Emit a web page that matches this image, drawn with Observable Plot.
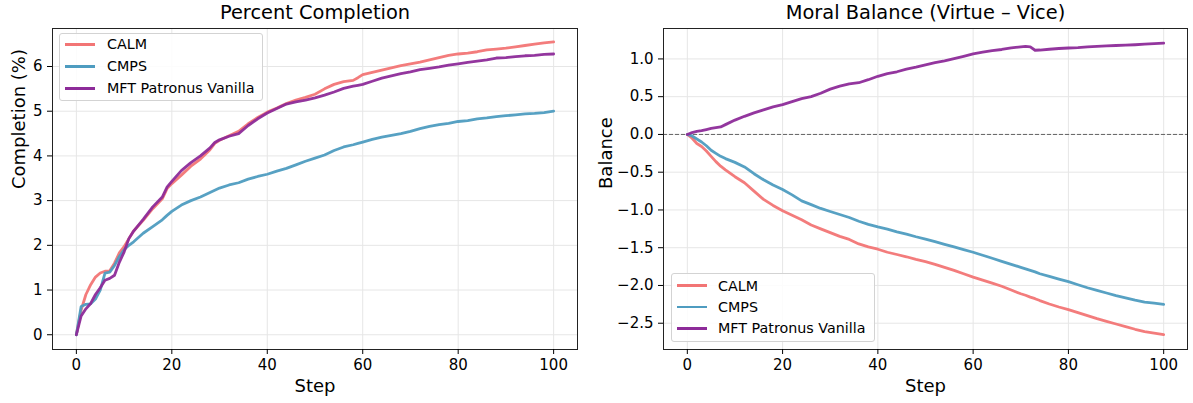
<!DOCTYPE html>
<html>
<head>
<meta charset="utf-8">
<script src="https://cdn.jsdelivr.net/npm/d3@7"></script>
<script src="https://cdn.jsdelivr.net/npm/@observablehq/plot@0.6"></script>
<style>
  html, body { margin: 0; padding: 0; background: #fff; }
  body { font-family: "DejaVu Sans", sans-serif; }
  #wrap { position: relative; width: 1193px; height: 403px; overflow: hidden; background: #fff; }
  .panel { position: absolute; top: 0; }
  .legend { position: absolute; border: 1px solid #d3d3d3; border-radius: 3px; background: rgba(255,255,255,0.85); box-sizing: border-box; }
  .sw { position: absolute; height: 2.8px; width: 30px; }
  .lt { position: absolute; font-size: 14.3px; line-height: 16px; white-space: nowrap; color: #000; }
</style>
</head>
<body>
<div id="wrap"></div>
<script>
// ---------------- data ----------------
const seriesNames = ["CALM", "CMPS", "MFT Patronus Vanilla"];
const seriesColors = ["#f27575", "#4e9cc0", "#8d2b99"];

// Percent Completion panel
const stepsCompletion = [0,1,2,3,4,5,6,7,8,9,10,11,12,14,16,18,19,20,22,24,26,28,29,30,32,34,36,38,40,42,44,46,48,50,52,54,56,58,59,60,62,64,66,68,70,72,74,76,78,80,82,84,86,88,90,92,94,96,98,100];
const calmCompletion = [0,0.55,0.9,1.12,1.29,1.38,1.42,1.43,1.6,1.83,1.97,2.15,2.32,2.56,2.82,3.04,3.27,3.38,3.57,3.77,3.93,4.14,4.28,4.35,4.45,4.55,4.72,4.86,4.98,5.07,5.17,5.25,5.31,5.38,5.5,5.6,5.66,5.69,5.75,5.82,5.87,5.92,5.97,6.02,6.06,6.1,6.15,6.2,6.25,6.28,6.3,6.33,6.37,6.39,6.41,6.44,6.47,6.5,6.53,6.55];
const cmpsCompletion = [0,0.63,0.68,0.69,0.8,1.0,1.38,1.4,1.55,1.75,1.9,2.0,2.08,2.27,2.42,2.57,2.67,2.76,2.9,3.0,3.08,3.18,3.23,3.28,3.35,3.4,3.48,3.54,3.59,3.66,3.72,3.8,3.88,3.95,4.02,4.12,4.2,4.25,4.28,4.31,4.37,4.42,4.46,4.5,4.55,4.61,4.66,4.7,4.73,4.77,4.79,4.83,4.85,4.88,4.9,4.92,4.94,4.95,4.97,5.0];
const mftCompletion = [0,0.42,0.58,0.7,0.9,1.05,1.22,1.26,1.33,1.62,1.85,2.15,2.32,2.58,2.86,3.08,3.3,3.43,3.67,3.85,4.0,4.18,4.3,4.36,4.44,4.5,4.68,4.83,4.96,5.06,5.16,5.21,5.25,5.3,5.36,5.43,5.51,5.56,5.58,5.6,5.67,5.74,5.79,5.84,5.88,5.93,5.96,5.99,6.03,6.06,6.09,6.12,6.15,6.19,6.2,6.22,6.24,6.25,6.27,6.28];

// Moral Balance panel
const stepsBalance = [0,1,2,3,4,5,6,7,8,10,12,14,16,18,20,22,24,26,28,30,32,34,36,38,40,42,44,46,48,50,52,54,56,58,60,62,64,66,68,70,71,72,73,74,76,78,80,82,84,86,88,90,92,94,96,98,100];
const calmBalance = [0,-0.05,-0.12,-0.16,-0.22,-0.29,-0.36,-0.42,-0.47,-0.56,-0.64,-0.75,-0.86,-0.94,-1.01,-1.07,-1.13,-1.2,-1.25,-1.3,-1.35,-1.39,-1.45,-1.49,-1.52,-1.56,-1.59,-1.62,-1.655,-1.685,-1.72,-1.76,-1.8,-1.845,-1.89,-1.93,-1.97,-2.01,-2.06,-2.11,-2.13,-2.155,-2.175,-2.2,-2.245,-2.285,-2.32,-2.36,-2.4,-2.44,-2.475,-2.51,-2.545,-2.58,-2.61,-2.63,-2.65];
const cmpsBalance = [0,-0.02,-0.06,-0.1,-0.15,-0.21,-0.25,-0.29,-0.32,-0.37,-0.43,-0.52,-0.6,-0.67,-0.73,-0.8,-0.88,-0.93,-0.98,-1.02,-1.06,-1.1,-1.15,-1.19,-1.225,-1.255,-1.29,-1.32,-1.355,-1.385,-1.42,-1.455,-1.49,-1.525,-1.56,-1.6,-1.64,-1.68,-1.72,-1.76,-1.78,-1.8,-1.82,-1.845,-1.88,-1.915,-1.95,-1.99,-2.03,-2.065,-2.1,-2.135,-2.165,-2.195,-2.22,-2.235,-2.25];
const mftBalance = [0,0.025,0.04,0.05,0.065,0.08,0.09,0.1,0.13,0.19,0.24,0.285,0.325,0.365,0.395,0.435,0.475,0.5,0.545,0.6,0.64,0.67,0.685,0.725,0.77,0.805,0.83,0.865,0.89,0.92,0.95,0.975,1.005,1.035,1.066,1.09,1.11,1.125,1.145,1.16,1.165,1.16,1.115,1.118,1.128,1.138,1.145,1.15,1.16,1.167,1.172,1.178,1.183,1.188,1.195,1.203,1.21];

const xTicks = [0, 20, 40, 60, 80, 100];
const yTicksCompletion = [0, 1, 2, 3, 4, 5, 6];
const yTicksBalance = [-2.5, -2.0, -1.5, -1.0, -0.5, 0.0, 0.5, 1.0];

// ---------------- helpers ----------------
function rows(steps, values) {
  return steps.map((s, i) => ({step: s, value: values[i]}));
}

function panel({left, width, marginLeft, marginRight, title, ylabel, ylabelDx, yDomain, yTicks, yFormat, series, zeroLine}) {
  const marks = [
    Plot.gridX(xTicks, {stroke: "#e6e6e6", strokeOpacity: 1, strokeWidth: 1}),
    Plot.gridY(yTicks, {stroke: "#e6e6e6", strokeOpacity: 1, strokeWidth: 1}),
  ];
  if (zeroLine) marks.push(Plot.ruleY([0], {stroke: "#555", strokeOpacity: 0.9, strokeWidth: 1, strokeDasharray: "4,2"}));
  series.forEach((vals, i) => {
    marks.push(Plot.line(vals, {x: "step", y: "value", stroke: seriesColors[i], strokeWidth: 2.8, strokeOpacity: 0.95, curve: "linear"}));
  });
  marks.push(
    Plot.frame({stroke: "#222", strokeWidth: 1}),
    Plot.axisX({ticks: xTicks, tickSize: 5, tickPadding: 5, label: null, tickFormat: d3.format("d")}),
    Plot.axisY({ticks: yTicks, tickSize: 5, tickPadding: 5, label: null, tickFormat: yFormat}),
    Plot.text([title], {frameAnchor: "top", dy: -10, lineAnchor: "bottom", fontSize: 19.4, fill: "#000"}),
    Plot.text(["Step"], {frameAnchor: "bottom", dy: 42, lineAnchor: "bottom", fontSize: 18, fill: "#000"}),
    Plot.text([ylabel], {frameAnchor: "left", dx: ylabelDx, rotate: -90, lineAnchor: "bottom", fontSize: 18, fill: "#000"})
  );
  const svg = Plot.plot({
    width, height: 403,
    marginLeft, marginRight, marginTop: 28, marginBottom: 54,
    x: {domain: [-5, 105], label: null},
    y: {domain: yDomain, label: null},
    style: {fontFamily: "DejaVu Sans", fontSize: "15px", background: "transparent", color: "#000", overflow: "visible"},
    marks
  });
  svg.classList.add("panel");
  svg.style.left = left + "px";
  svg.style.maxWidth = "none";
  return svg;
}

function legend(wrap, {left, top, width, height, rowY, swX, textX}) {
  const box = document.createElement("div");
  box.className = "legend";
  Object.assign(box.style, {left: left + "px", top: top + "px", width: width + "px", height: height + "px"});
  wrap.appendChild(box);
  seriesNames.forEach((name, i) => {
    const sw = document.createElement("div");
    sw.className = "sw";
    Object.assign(sw.style, {left: swX + "px", top: (rowY[i] - 1.4) + "px", background: seriesColors[i]});
    wrap.appendChild(sw);
    const t = document.createElement("div");
    t.className = "lt";
    t.textContent = name;
    Object.assign(t.style, {left: textX + "px", top: (rowY[i] - 8) + "px"});
    wrap.appendChild(t);
  });
}

// ---------------- build ----------------
const wrap = document.getElementById("wrap");

wrap.appendChild(panel({
  left: 0, width: 596, marginLeft: 52, marginRight: 19,
  title: "Percent Completion", ylabel: "Completion (%)", ylabelDx: -27.5,
  yDomain: [-0.33, 6.85], yTicks: yTicksCompletion, yFormat: d3.format("d"),
  series: [rows(stepsCompletion, calmCompletion), rows(stepsCompletion, cmpsCompletion), rows(stepsCompletion, mftCompletion)],
  zeroLine: false
}));

wrap.appendChild(panel({
  left: 596, width: 597, marginLeft: 67, marginRight: 6,
  title: "Moral Balance (Virtue \u2013 Vice)", ylabel: "Balance", ylabelDx: -52,
  yDomain: [-2.848, 1.403], yTicks: yTicksBalance, yFormat: d3.format(".1f"),
  series: [rows(stepsBalance, calmBalance), rows(stepsBalance, cmpsBalance), rows(stepsBalance, mftBalance)],
  zeroLine: true
}));

legend(wrap, {left: 59, top: 33, width: 204, height: 68, rowY: [44.3, 66.2, 88.3], swX: 65, textX: 107});
legend(wrap, {left: 671, top: 273, width: 204, height: 69, rowY: [285.7, 306.9, 328.4], swX: 677, textX: 718});
</script>
</body>
</html>
